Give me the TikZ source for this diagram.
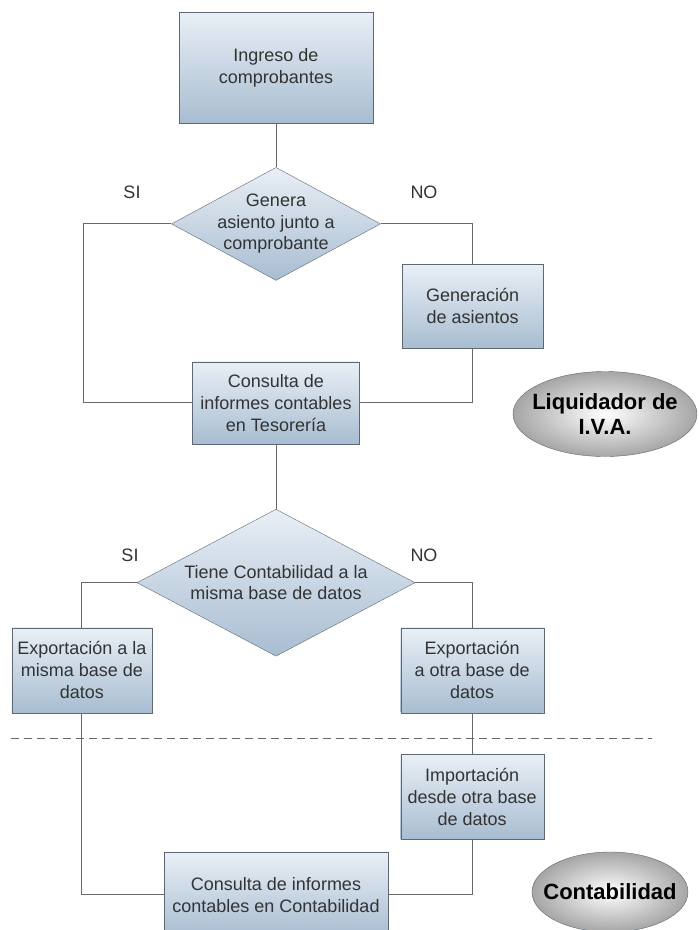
\documentclass[tikz,border=0pt]{standalone}
\usepackage{fontspec}
\setmainfont{Liberation Sans}
\usepackage{tikz}
\usetikzlibrary{positioning,shapes}

\definecolor{boxtop}{HTML}{E9EFF6}
\definecolor{boxbot}{HTML}{A8BDD1}
\definecolor{edgegray}{HTML}{5E6874}
\definecolor{wiregray}{HTML}{686868}
\definecolor{ink}{HTML}{333333}

\begin{document}
\begin{tikzpicture}[auto,x=1pt,y=-1pt]
	\tikzstyle{block} = [draw=edgegray, rectangle, top color=boxtop, bottom color=boxbot, text=ink, align=center, inner sep=2pt, font=\fontsize{18}{22}\selectfont]
	\tikzstyle{decision} = [draw=edgegray, diamond, top color=boxtop, bottom color=boxbot, inner sep=0pt]
	\tikzstyle{oval} = [draw=edgegray, ellipse, inner color=white, outer color=gray!70, inner sep=0pt]
	\tikzstyle{ovaltext} = [text=black, align=center, font=\fontsize{22}{25}\selectfont\bfseries]
	\tikzstyle{word} = [text=ink, align=center, font=\fontsize{18}{21.5}\selectfont]
	\tikzstyle{wire} = [draw=wiregray, line width=1pt]

	\useasboundingbox (0,0) rectangle (699,930);
	\clip (0,0) rectangle (699,930);

	\node [block, minimum width=194pt, minimum height=111pt] (ingreso) at (276,67.5) {Ingreso de\\comprobantes};
	\node [decision, minimum width=209pt, minimum height=113pt, below = 44pt of ingreso, label={[word]center:Genera\\asiento junto a\\comprobante}] (genera) {};
	\node [coordinate, left = 88pt of genera] (c1) {};
	\node [coordinate, right = 92pt of genera] (c2) {};
	\node [block, minimum width=141pt, minimum height=84pt, below = 40pt of c2] (generacion) {Generación\\de asientos};
	\node [block, minimum width=167pt, minimum height=82pt, below = 81pt of genera] (consulta) {Consulta de\\informes contables\\en Tesorería};

	\node [decision, minimum width=278pt, minimum height=147pt, below = 65pt of consulta, label={[word]center:Tiene Contabilidad a la\\misma base de datos}] (tiene) {};
	\node [coordinate, left = 55pt of tiene] (c3) {};
	\node [coordinate, right = 57pt of tiene] (c4) {};
	\node [block, minimum width=140pt, minimum height=85pt, below = 45pt of c3] (expmisma) {Exportación a la\\misma base de\\datos};
	\node [block, minimum width=143pt, minimum height=85pt, below = 45pt of c4] (expotra) {Exportación\\a otra base de\\datos};
	\node [block, minimum width=143pt, minimum height=85pt, below = 41pt of expotra] (importa) {Importación\\desde otra base\\de datos};
	\node [block, minimum width=224pt, minimum height=84pt, below = 196pt of tiene] (consultacont) {Consulta de informes\\contables en Contabilidad};

	\node [oval, minimum width=184pt, minimum height=85pt, label={[ovaltext]center:Liquidador de\\I.V.A.}] (liqiva) at (605,414) {};
	\node [oval, minimum width=156pt, minimum height=80pt, label={[ovaltext]center:Contabilidad}] (contab) at (610,892) {};

	\node [word] (si1) at (132,192) {SI};
	\node [word] (no1) at (424,192) {NO};
	\node [word] (si2) at (130,555) {SI};
	\node [word] (no2) at (424,555) {NO};

	\node [coordinate] (dl) at (11,738) {};
	\node [coordinate] (dr) at (652,738) {};

	\draw [wire] (ingreso) -- (genera);
	\draw [wire] (genera.west) -- (c1) |- (consulta.west);
	\draw [wire] (genera.east) -- (c2) -- (generacion);
	\draw [wire] (generacion) |- (consulta.east);
	\draw [wire] (consulta) -- (tiene);
	\draw [wire] (tiene.west) -- (c3) -- (expmisma);
	\draw [wire] (tiene.east) -- (c4) -- (expotra);
	\draw [wire] (expotra) -- (importa);
	\draw [wire] (expmisma) |- (consultacont.west);
	\draw [wire] (importa) |- (consultacont.east);
	\draw [wire, dash pattern=on 8pt off 5pt] (dl) -- (dr);
\end{tikzpicture}
\end{document}
